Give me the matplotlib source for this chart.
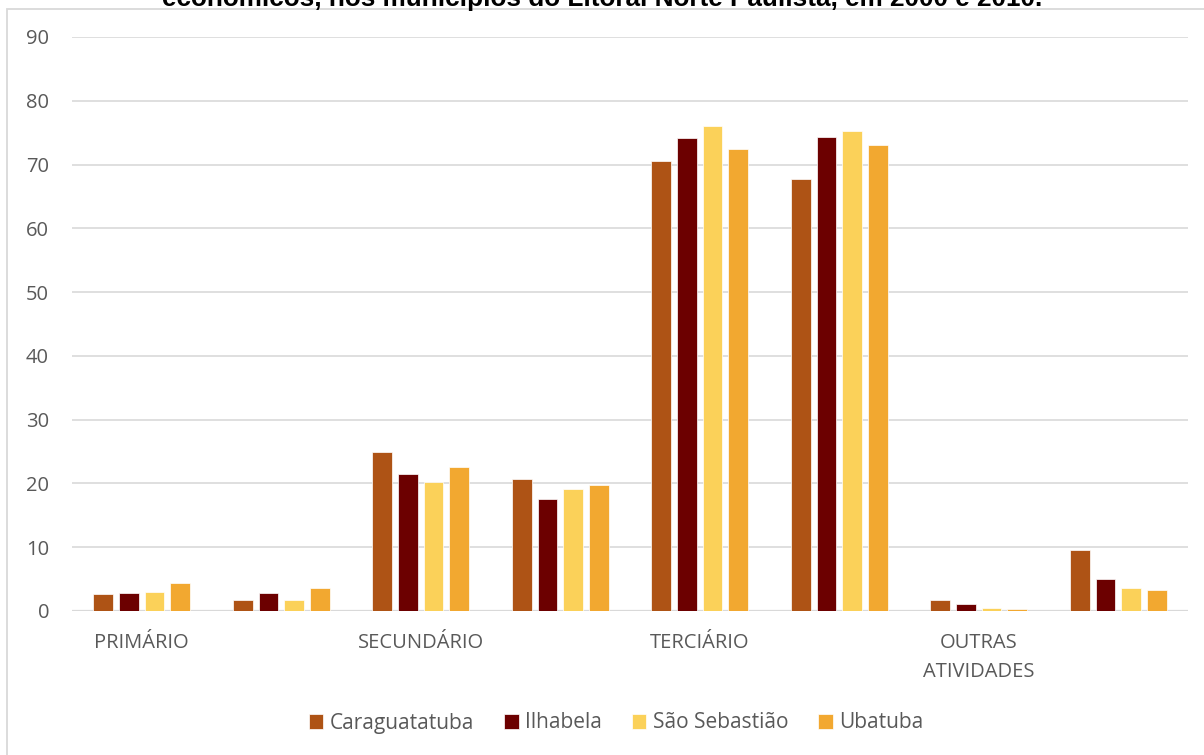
"""
Participação dos setores econômicos no Litoral Norte Paulista, 2000 e 2010
"""
import matplotlib.pyplot as plt
import numpy as np
from matplotlib.patches import Rectangle

sectors = ["PRIMÁRIO", "SECUNDÁRIO", "TERCIÁRIO", "OUTRAS\nATIVIDADES"]
years = ["2000", "2010"]
municipalities = ["Caraguatatuba", "Ilhabela", "São Sebastião", "Ubatuba"]

# one value per (sector, year) pair, in the order sector 2000, sector 2010, ...
caraguatatuba = [2.67, 1.72, 24.9, 20.7, 70.5, 67.7, 1.68, 9.56]
ilhabela = [2.85, 2.75, 21.5, 17.6, 74.1, 74.3, 1.15, 5.0]
sao_sebastiao = [3.0, 1.72, 20.2, 19.1, 76.0, 75.2, 0.42, 3.55]
ubatuba = [4.44, 3.6, 22.6, 19.8, 72.4, 73.0, 0.26, 3.34]

colors = ["#AE5315", "#6C0000", "#FBD159", "#F2A830"]
TEXT_COLOR = "#595959"
GRID_COLOR = "#D9D9D9"

plt.rcParams["font.family"] = ["Open Sans", "DejaVu Sans"]

fig = plt.figure(figsize=(12.04, 7.55), dpi=100)
ax = fig.add_axes([72 / 1204, 1 - 611 / 755, 1116 / 1204, 574 / 755])

n_groups = len(sectors) * len(years)
x = np.arange(n_groups)
width = 0.143
step = 0.183
series = [caraguatatuba, ilhabela, sao_sebastiao, ubatuba]
for i, (name, values, color) in enumerate(zip(municipalities, series, colors)):
    offset = (i - 1.5) * step
    ax.bar(x + offset, values, width, color=color, label=name,
           edgecolor="white", linewidth=0.5, zorder=3)

ax.set_xlim(-0.5, n_groups - 0.5)
ax.set_ylim(0, 90)
ax.set_yticks(np.arange(0, 91, 10))
ax.grid(axis="y", color=GRID_COLOR, linewidth=1.2, zorder=0)
for side in ["top", "right", "left", "bottom"]:
    ax.spines[side].set_visible(False)
ax.axhline(0, color=GRID_COLOR, linewidth=1.6, zorder=2)

# sector names sit under the 2000 group of each pair
ax.set_xticks(x[:: len(years)])
ax.set_xticklabels(sectors, linespacing=1.6, va="top")
ax.tick_params(axis="both", length=0, labelsize=14.5, labelcolor=TEXT_COLOR)
ax.tick_params(axis="x", pad=16)
ax.tick_params(axis="y", pad=16.5)

fig.legend(loc="center", bbox_to_anchor=(616 / 1204, 1 - 723 / 755),
           ncol=4, frameon=False, fontsize=15, labelcolor=TEXT_COLOR,
           handlelength=0.7, handleheight=0.7, handletextpad=0.3,
           columnspacing=1.45)

# chart area outline
fig.patches.append(Rectangle((7 / 1204, -0.05), 1.1, 1 - 9 / 755 + 0.05,
                             transform=fig.transFigure, fill=False,
                             edgecolor=GRID_COLOR, linewidth=1.3))

# the title wraps onto two lines; only the tail of the second fits in the page
fig.text(602 / 1204, 1 - 6 / 755,
         "Gráfico 1 – Distribuição da população ocupada, segundo os setores\n"
         "econômicos, nos municípios do Litoral Norte Paulista, em 2000 e 2010.",
         ha="center", va="baseline", fontsize=18.8, fontweight="bold",
         linespacing=1.2, family=["Liberation Sans", "DejaVu Sans"])

fig.savefig("out.png", dpi=100)
